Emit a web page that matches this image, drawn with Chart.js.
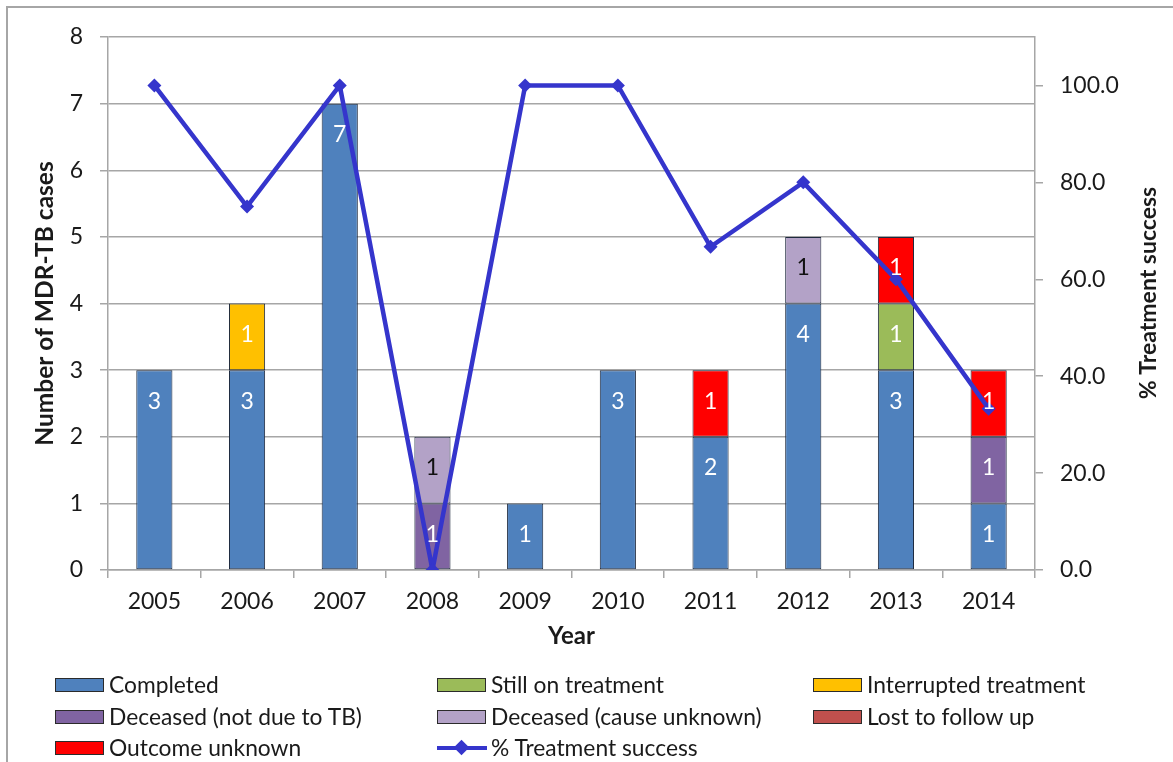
<!DOCTYPE html>
<html>
<head>
<meta charset="utf-8">
<script src="https://cdn.jsdelivr.net/npm/chart.js@4.4.1/dist/chart.umd.min.js"></script>
<style>
  html, body { margin: 0; padding: 0; background: #fff; }
  #wrap { position: relative; width: 1173px; height: 762px; overflow: hidden; background: #fff; }
  #frame { position: absolute; left: 6px; top: 6px; width: 1200px; height: 800px;
           border-left: 2px solid #a6a6a6; border-top: 2px solid #a6a6a6; box-sizing: border-box; }
  canvas { position: absolute; left: 0; top: 0; }
  .lg { position: absolute; font-family: Lato, "Open Sans", sans-serif; font-size: 22.8px; color: #1a1a1a;
        line-height: 24px; white-space: nowrap; }
  .sw { position: absolute; width: 49px; height: 14px; box-sizing: border-box; border: 1.5px solid #2b2b2b; }
</style>
</head>
<body>
<div id="wrap">
  <div id="frame"></div>
  <canvas id="c" width="1173" height="762"></canvas>
  <div id="legend"></div>
</div>
<script>
// ---- data ----
const years = ['2005','2006','2007','2008','2009','2010','2011','2012','2013','2014'];
const completed        = [3, 3, 7, 0, 1, 3, 2, 4, 3, 1];
const stillOnTreatment = [0, 0, 0, 0, 0, 0, 0, 0, 1, 0];
const interrupted      = [0, 1, 0, 0, 0, 0, 0, 0, 0, 0];
const deceasedNotTB    = [0, 0, 0, 1, 0, 0, 0, 0, 0, 1];
const deceasedUnknown  = [0, 0, 0, 1, 0, 0, 0, 1, 0, 0];
const lostToFollowUp   = [0, 0, 0, 0, 0, 0, 0, 0, 0, 0];
const outcomeUnknown   = [0, 0, 0, 0, 0, 0, 1, 0, 1, 1];
const treatmentSuccess = [100.0, 75.0, 100.0, 0.0, 100.0, 100.0, 66.7, 80.0, 60.0, 33.3];
const leftTicks  = [0, 1, 2, 3, 4, 5, 6, 7, 8];
const rightTicks = [0, 20, 40, 60, 80, 100];

const FONT = 'Lato, "Open Sans", sans-serif';
const TXT = '#1a1a1a';
const GRID = '#a6a6a6';

const barSeries = [
  { label: 'Completed',               data: completed,        color: '#4F81BD', text: '#ffffff' },
  { label: 'Still on treatment',      data: stillOnTreatment, color: '#9BBB59', text: '#ffffff' },
  { label: 'Interrupted treatment',   data: interrupted,      color: '#FFC000', text: '#ffffff' },
  { label: 'Deceased (not due to TB)',data: deceasedNotTB,    color: '#8064A2', text: '#ffffff' },
  { label: 'Deceased (cause unknown)',data: deceasedUnknown,  color: '#B3A2C7', text: '#111111' },
  { label: 'Lost to follow up',       data: lostToFollowUp,   color: '#C0504D', text: '#ffffff' },
  { label: 'Outcome unknown',         data: outcomeUnknown,   color: '#FF0000', text: '#ffffff' }
];
const LINE_COLOR = '#3535CC';

const datasets = barSeries.map(s => ({
  type: 'bar',
  label: s.label,
  data: s.data,
  backgroundColor: s.color,
  borderColor: '#1e2a3e',
  borderWidth: 1,
  borderSkipped: false,
  stack: 's',
  yAxisID: 'y',
  order: 1,
  categoryPercentage: 1.0,
  barPercentage: 0.39,
  labelColor: s.text
}));
datasets.push({
  type: 'line',
  label: '% Treatment success',
  data: treatmentSuccess,
  borderColor: LINE_COLOR,
  backgroundColor: LINE_COLOR,
  borderWidth: 4.5,
  pointStyle: 'rectRot',
  pointRadius: 7,
  pointBorderWidth: 0,
  tension: 0,
  yAxisID: 'y1',
  order: 0
});

const barLabels = {
  id: 'barLabels',
  afterDatasetsDraw(chart) {
    const ctx = chart.ctx;
    ctx.save();
    ctx.font = '23px ' + FONT;
    ctx.textAlign = 'center';
    ctx.textBaseline = 'middle';
    chart.data.datasets.forEach((ds, i) => {
      if (ds.type !== 'bar') return;
      const meta = chart.getDatasetMeta(i);
      meta.data.forEach((el, j) => {
        const v = ds.data[j];
        if (!v) return;
        ctx.fillStyle = ds.labelColor;
        ctx.fillText(String(v), el.x, el.y + 31);
      });
    });
    ctx.restore();
  }
};

const rightTitle = {
  id: 'rightTitle',
  afterDraw(chart) {
    const ctx = chart.ctx;
    ctx.save();
    ctx.font = 'bold 23px ' + FONT;
    ctx.fillStyle = TXT;
    ctx.textAlign = 'center';
    ctx.textBaseline = 'middle';
    ctx.translate(1149, 293);
    ctx.rotate(-Math.PI / 2);
    ctx.fillText('% Treatment success', 0, 0);
    ctx.restore();
  }
};

new Chart(document.getElementById('c'), {
  data: { labels: years, datasets },
  options: {
    responsive: false,
    animation: false,
    devicePixelRatio: 1,
    layout: { padding: { left: 30, right: 8, top: 37, bottom: 108.5 } },
    plugins: { legend: { display: false }, tooltip: { enabled: false } },
    scales: {
      x: {
        stacked: true,
        grid: { offset: true, drawOnChartArea: false, drawTicks: true, tickLength: 8, color: GRID, lineWidth: 1.5 },
        border: { color: GRID, width: 1.5 },
        ticks: { font: { family: FONT, size: 23 }, color: TXT, padding: 10 },
        title: { display: true, text: 'Year', font: { family: FONT, size: 24, weight: 'bold' }, color: TXT, padding: { top: 0, bottom: 3 } },
        afterFit(s) { s.height = 83.5; }
      },
      y: {
        type: 'linear',
        position: 'left',
        stacked: true,
        min: leftTicks[0],
        max: leftTicks[leftTicks.length - 1],
        afterBuildTicks(s) { s.ticks = leftTicks.map(v => ({ value: v })); },
        grid: { color: GRID, lineWidth: 1.5, tickLength: 8 },
        border: { color: GRID, width: 1.5 },
        ticks: { font: { family: FONT, size: 23 }, color: TXT, padding: 17 },
        title: { display: true, text: 'Number of MDR-TB cases', font: { family: FONT, size: 24.5, weight: 'bold' }, color: TXT, padding: { top: 0, bottom: 0 } },
        afterFit(s) { s.width = 78; }
      },
      y1: {
        type: 'linear',
        position: 'right',
        min: 0,
        max: 110,
        afterBuildTicks(s) { s.ticks = rightTicks.map(v => ({ value: v })); },
        grid: { drawOnChartArea: false, color: GRID, lineWidth: 1.5, tickLength: 8 },
        border: { color: GRID, width: 1.5 },
        ticks: { font: { family: FONT, size: 23 }, color: TXT, padding: 17, callback: v => Number(v).toFixed(1) },
        afterFit(s) { s.width = 130; }
      }
    }
  },
  plugins: [barLabels, rightTitle]
});

// ---- HTML legend ----
const legendItems = [
  { label: barSeries[0].label, color: barSeries[0].color, x: 55,  y: 685 },
  { label: barSeries[1].label, color: barSeries[1].color, x: 437, y: 685 },
  { label: barSeries[2].label, color: barSeries[2].color, x: 813, y: 685 },
  { label: barSeries[3].label, color: barSeries[3].color, x: 55,  y: 717 },
  { label: barSeries[4].label, color: barSeries[4].color, x: 437, y: 717 },
  { label: barSeries[5].label, color: barSeries[5].color, x: 813, y: 717 },
  { label: barSeries[6].label, color: barSeries[6].color, x: 55,  y: 748 },
  { label: '% Treatment success', line: true,             x: 437, y: 748 }
];
const lg = document.getElementById('legend');
legendItems.forEach(it => {
  if (it.line) {
    const l = document.createElement('div');
    l.style.cssText = `position:absolute;left:${it.x}px;top:${it.y - 2}px;width:50px;height:4px;background:${LINE_COLOR};`;
    lg.appendChild(l);
    const d = document.createElement('div');
    d.style.cssText = `position:absolute;left:${it.x + 19}px;top:${it.y - 6}px;width:11px;height:11px;background:${LINE_COLOR};transform:rotate(45deg);`;
    lg.appendChild(d);
  } else {
    const s = document.createElement('div');
    s.className = 'sw';
    s.style.left = it.x + 'px';
    s.style.top = (it.y - 7) + 'px';
    s.style.background = it.color;
    lg.appendChild(s);
  }
  const t = document.createElement('div');
  t.className = 'lg';
  t.textContent = it.label;
  t.style.left = (it.x + 54) + 'px';
  t.style.top = (it.y - 13) + 'px';
  lg.appendChild(t);
});
</script>
</body>
</html>
